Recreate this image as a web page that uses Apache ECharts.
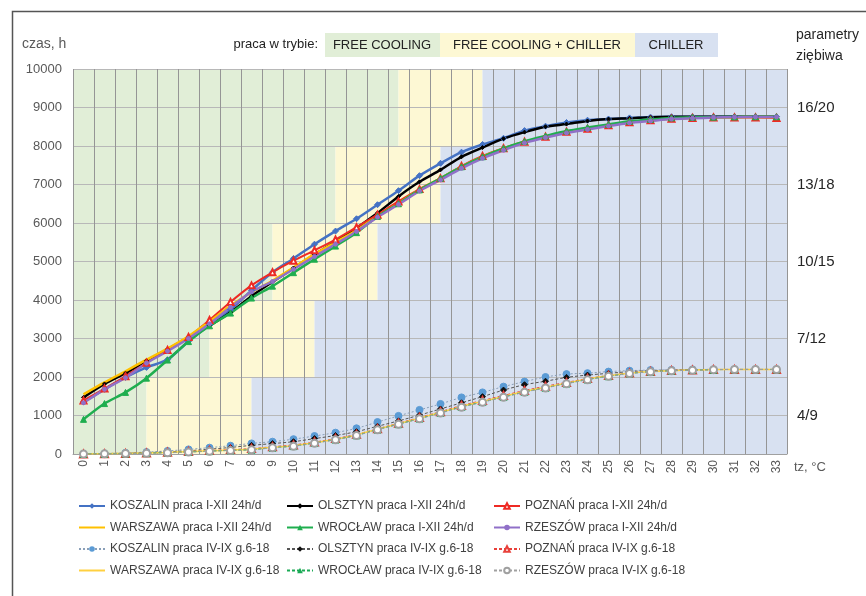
<!DOCTYPE html>
<html>
<head>
<meta charset="utf-8">
<script src="https://cdn.jsdelivr.net/npm/echarts@6/dist/echarts.min.js"></script>
<style>html,body{margin:0;padding:0;background:#fff;}#c{width:866px;height:596px;}</style>
</head>
<body>
<div id="c"></div>
<script>
// ---- data ----
var categories = ['0','1','2','3','4','5','6','7','8','9','10','11','12','13','14','15','16','17','18','19','20','21','22','23','24','25','26','27','28','29','30','31','32','33'];

var koszalin = [1350,1680,1990,2250,2450,2930,3350,3750,4250,4720,5080,5450,5790,6110,6475,6840,7230,7550,7840,8040,8200,8400,8515,8610,8670,8700,8730,8750,8760,8760,8760,8760,8760,8760];
var olsztyn  = [1470,1820,2100,2420,2720,3030,3330,3680,4100,4470,4830,5180,5520,5870,6260,6690,7070,7380,7720,7960,8190,8360,8500,8570,8650,8700,8720,8750,8760,8760,8760,8760,8760,8760];
var poznan   = [1390,1700,2020,2370,2700,3040,3480,3950,4380,4720,5020,5290,5570,5890,6215,6560,6880,7160,7480,7740,7940,8110,8240,8370,8450,8540,8620,8670,8710,8730,8740,8740,8740,8730];
var warszawa = [1550,1860,2150,2450,2740,3060,3440,3850,4200,4500,4840,5190,5500,5810,6170,6510,6860,7160,7460,7720,7930,8110,8240,8370,8460,8540,8620,8670,8710,8730,8745,8750,8755,8755];
var wroclaw  = [900,1310,1600,1970,2440,2920,3330,3660,4050,4360,4710,5060,5400,5750,6170,6500,6860,7160,7460,7720,7940,8120,8260,8390,8480,8560,8640,8690,8730,8745,8750,8755,8760,8760];
var rzeszow  = [1330,1680,1980,2360,2670,3000,3380,3810,4210,4480,4800,5130,5450,5780,6150,6480,6830,7120,7420,7680,7890,8080,8220,8340,8430,8520,8600,8650,8700,8720,8740,8750,8755,8755];

var koszalinL = [5,15,30,50,80,120,165,215,275,320,385,467,554,667,830,990,1145,1300,1470,1600,1750,1880,2000,2075,2100,2140,2165,2180,2185,2196,2196,2196,2196,2196];
var olsztynL  = [4,10,20,35,55,85,125,170,225,270,320,400,480,580,720,860,1010,1170,1330,1490,1660,1800,1890,1990,2050,2095,2140,2165,2180,2190,2196,2196,2196,2196];
var poznanL   = [3,8,15,25,45,65,90,115,140,190,235,310,400,510,655,800,950,1100,1260,1390,1520,1650,1760,1860,1960,2040,2105,2145,2170,2185,2192,2196,2196,2196];
var warszawaL = [3,7,14,24,40,60,82,105,125,175,215,295,385,495,645,785,930,1080,1235,1365,1495,1625,1735,1840,1945,2030,2098,2140,2165,2182,2192,2196,2196,2196];
var wroclawL  = [2,6,12,22,38,55,75,95,110,165,205,285,375,485,635,775,920,1070,1225,1350,1480,1610,1720,1830,1935,2020,2092,2138,2163,2180,2190,2196,2196,2196];
var rzeszowL  = [2,5,10,18,32,50,70,92,108,160,200,280,370,480,630,770,915,1062,1215,1345,1475,1605,1715,1825,1930,2018,2090,2135,2160,2178,2190,2196,2196,2196];

// operating-mode bands (background)
var bandBottom = [0,2000,4000,6000,8000];
var bandTop    = [2000,4000,6000,8000,10000];
var freeCoolingEnd = [3,6,9,12,15];
var chillerStart   = [8,11,14,17,19];

// right axis (refrigerant parameters)
var rightTickValues = [1000,3000,5000,7000,9000];
var rightTickLabels = ['4/9','7/12','10/15','13/18','16/20'];

var modeNames = ['FREE COOLING','FREE COOLING + CHILLER','CHILLER'];

// ---- build ----
var FONT = 'Liberation Sans';
var bgColors = ['#e1eed7','#fdf8d4','#d8e1f1'];
var bgData = [];
for (var i = 0; i < bandBottom.length; i++) {
  bgData.push([-0.5, freeCoolingEnd[i], bandBottom[i], bandTop[i], 0]);
  bgData.push([freeCoolingEnd[i], chillerStart[i], bandBottom[i], bandTop[i], 1]);
  bgData.push([chillerStart[i], 33.5, bandBottom[i], bandTop[i], 2]);
}

function mainSeries(name, data, color, symbol, size, width) {
  return {
    name: name, type: 'line', data: data, smooth: 0.25,
    symbol: symbol, symbolSize: size, showSymbol: symbol !== 'none',
    lineStyle: {color: color, width: width},
    itemStyle: {color: color, borderColor: color},
    z: 4
  };
}
function lowSeries(name, data, color, lineColor, symbol, size, type, width) {
  return {
    name: name, type: 'line', data: data, smooth: 0.25,
    symbol: symbol, symbolSize: size, showSymbol: symbol !== 'none',
    lineStyle: {color: lineColor, width: width, type: type},
    itemStyle: {color: color, borderColor: color},
    z: 3
  };
}

var names = [
  'KOSZALIN praca I-XII 24h/d','OLSZTYN praca I-XII 24h/d','POZNAŃ praca I-XII 24h/d',
  'WARSZAWA praca I-XII 24h/d','WROCŁAW praca I-XII 24h/d','RZESZÓW praca I-XII 24h/d',
  'KOSZALIN praca IV-IX g.6-18','OLSZTYN praca IV-IX g.6-18','POZNAŃ praca IV-IX g.6-18',
  'WARSZAWA praca IV-IX g.6-18','WROCŁAW praca IV-IX g.6-18','RZESZÓW praca IV-IX g.6-18'
];
var noSymbol = {};
noSymbol[names[3]] = true; noSymbol[names[9]] = true;

var series = [
  {
    type: 'custom', xAxisIndex: 1, yAxisIndex: 0, silent: true, z: -1,
    data: bgData,
    renderItem: function (params, api) {
      var p0 = api.coord([api.value(0), api.value(3)]);
      var p1 = api.coord([api.value(1), api.value(2)]);
      return {type: 'rect', shape: {x: p0[0], y: p0[1], width: p1[0] - p0[0], height: p1[1] - p0[1]},
              style: {fill: bgColors[api.value(4)]}};
    }
  },
  lowSeries(names[6], koszalinL, '#5b9bd5', '#8a9fb8', 'circle', 7, [2,2], 1),
  lowSeries(names[7], olsztynL, '#111', '#555', 'diamond', 6, [3,2], 1),
  lowSeries(names[8], poznanL, '#e8403a', '#e8403a', 'emptyTriangle', 7, [3,2], 1),
  lowSeries(names[9], warszawaL, '#ffd040', '#ffd040', 'none', 0, 'solid', 1.5),
  lowSeries(names[10], wroclawL, '#1aaa55', '#1aaa55', 'triangle', 7, [3,2], 1),
  lowSeries(names[11], rzeszowL, '#a0a0a0', '#a0a0a0', 'emptyCircle', 7, [3,2], 1),
  mainSeries(names[0], koszalin, '#4472c4', 'diamond', 6, 2.5),
  mainSeries(names[1], olsztyn, '#000000', 'diamond', 4, 2.5),
  mainSeries(names[2], poznan, '#ee2a24', 'emptyTriangle', 6, 2),
  mainSeries(names[3], warszawa, '#ffc000', 'none', 0, 2.5),
  mainSeries(names[4], wroclaw, '#1fae4f', 'triangle', 6, 2.5),
  mainSeries(names[5], rzeszow, '#9070c8', 'circle', 4, 2.5)
];

function legendCol(left, items) {
  return {
    orient: 'vertical', left: left, top: 495, itemWidth: 26, itemHeight: 7, itemGap: 9.5,
    data: items.map(function (n) {
      return noSymbol[n] ? {name: n, itemStyle: {opacity: 0}} : {name: n};
    }),
    selectedMode: false,
    textStyle: {fontFamily: FONT, fontSize: 12, color: '#404040'}
  };
}

var option = {
  animation: false,
  backgroundColor: '#ffffff',
  grid: {left: 73, right: 79, top: 69, bottom: 142},
  legend: [
    legendCol(73, [names[0], names[3], names[6], names[9]]),
    legendCol(281, [names[1], names[4], names[7], names[10]]),
    legendCol(488, [names[2], names[5], names[8], names[11]])
  ],
  xAxis: [
    {
      type: 'category', data: categories, boundaryGap: true,
      axisLine: {show: true, lineStyle: {color: '#a0a0a0'}},
      axisTick: {show: false},
      splitLine: {show: true, lineStyle: {color: '#959595', width: 1}},
      axisLabel: {interval: 0, rotate: 90, fontFamily: FONT, fontSize: 12, color: '#595959', margin: 6}
    },
    {type: 'value', min: -0.5, max: 33.5, show: false}
  ],
  yAxis: [
    {
      type: 'value', min: 0, max: 10000, interval: 1000,
      axisLine: {show: false}, axisTick: {show: false},
      splitLine: {lineStyle: {color: '#b8b8b8', width: 1}},
      axisLabel: {fontFamily: FONT, fontSize: 13, color: '#595959', margin: 11,
                  formatter: function (v) { return String(v); }}
    },
    {
      type: 'value', position: 'right', min: 0, max: 10000, interval: 1000,
      axisLine: {show: false}, axisTick: {show: false}, splitLine: {show: false},
      axisLabel: {
        fontFamily: FONT, fontSize: 15, color: '#262626', margin: 10,
        formatter: function (v) {
          var idx = rightTickValues.indexOf(v);
          return idx >= 0 ? rightTickLabels[idx] : '';
        }
      }
    }
  ],
  graphic: [
    {type: 'rect', left: 10, top: 9, shape: {width: 870, height: 600}, style: {fill: 'none', stroke: '#555', lineWidth: 1.5}},
    {type: 'text', left: 22, top: 37, style: {text: 'czas, h', fontFamily: FONT, fontSize: 14, fill: '#595959'}},
    {type: 'text', right: 866 - 318, top: 38, style: {text: 'praca w trybie:', fontFamily: FONT, fontSize: 13, fill: '#222'}},
    {type: 'rect', left: 325, top: 33, shape: {width: 115, height: 24}, style: {fill: bgColors[0]}},
    {type: 'rect', left: 440, top: 33, shape: {width: 195, height: 24}, style: {fill: bgColors[1]}},
    {type: 'rect', left: 635, top: 33, shape: {width: 83, height: 24}, style: {fill: bgColors[2]}},
    {type: 'text', x: 382, y: 45, style: {text: modeNames[0], fontFamily: FONT, fontSize: 13, fill: '#222', align: 'center', verticalAlign: 'middle'}},
    {type: 'text', x: 537, y: 45, style: {text: modeNames[1], fontFamily: FONT, fontSize: 13, fill: '#222', align: 'center', verticalAlign: 'middle'}},
    {type: 'text', x: 676, y: 45, style: {text: modeNames[2], fontFamily: FONT, fontSize: 13, fill: '#222', align: 'center', verticalAlign: 'middle'}},
    {type: 'text', left: 796, top: 28, style: {text: 'parametry', fontFamily: FONT, fontSize: 14, fill: '#262626'}},
    {type: 'text', left: 796, top: 49, style: {text: 'ziębiwa', fontFamily: FONT, fontSize: 14, fill: '#262626'}},
    {type: 'text', left: 794, top: 461, style: {text: 'tz, °C', fontFamily: FONT, fontSize: 13, fill: '#595959'}}
  ],
  series: series
};

var chart = echarts.init(document.getElementById('c'));
chart.setOption(option);
</script>
</body>
</html>
